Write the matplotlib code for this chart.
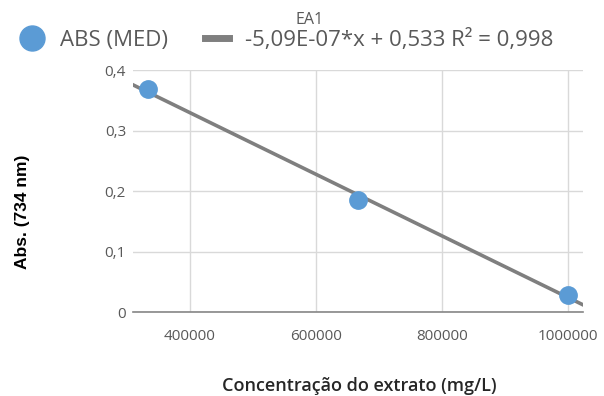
import matplotlib.pyplot as plt
from matplotlib.lines import Line2D
import numpy as np

plt.rcParams['font.family'] = ['Open Sans', 'DejaVu Sans']

# data
conc = [333333, 666667, 1000000]
absorb = [0.368, 0.185, 0.028]
slope = -5.09e-07
intercept = 0.533
xticks = [400000, 600000, 800000, 1000000]
yticks = [0, 0.1, 0.2, 0.3, 0.4]
ytick_labels = ["0", "0,1", "0,2", "0,3", "0,4"]

blue = "#5b9bd5"
trend_col = "#7f7f7f"
txt = "#595959"

fig = plt.figure(figsize=(6.04, 3.96), dpi=100)
ax = fig.add_axes([0.2202, 0.2121, 0.745, 0.6111])

xmin, xmax = 309500, 1023800
xs = np.array([xmin, xmax])
ax.plot(xs, slope * xs + intercept, color=trend_col, lw=2.6, zorder=2)
ax.plot(conc, absorb, "o", color=blue, ms=12.5, zorder=3)

ax.set_xlim(xmin, xmax)
ax.set_ylim(0, 0.4)
ax.set_xticks(xticks)
ax.set_xticklabels([str(v) for v in xticks])
ax.set_yticks(yticks)
ax.set_yticklabels(ytick_labels)
ax.grid(True, color="#d9d9d9", lw=1)
ax.set_axisbelow(True)
for s in ["top", "right", "left"]:
    ax.spines[s].set_visible(False)
ax.spines["bottom"].set_color("#868686")
ax.spines["bottom"].set_linewidth(1.2)
ax.tick_params(length=0, labelsize=11, colors=txt)
ax.tick_params(axis="x", pad=12)
ax.tick_params(axis="y", pad=5)

ax.set_xlabel("Concentração do extrato (mg/L)", fontsize=13, fontweight="semibold",
              color="#262626")
ax.xaxis.set_label_coords(0.504, -0.268)
ax.set_ylabel("Abs. (734 nm)", fontsize=12.5, fontweight="bold", color="black",
              family=["Liberation Sans", "DejaVu Sans"])
ax.yaxis.set_label_coords(-0.228, 0.413)

fig.text(0.512, 0.95, "EA1", ha="center", va="center", fontsize=11.5, color=txt)

handles = [Line2D([], [], marker="o", ls="", color=blue, ms=18),
           Line2D([], [], color=trend_col, lw=5)]
labels = ["ABS (MED)", "-5,09E-07*x + 0,533 R² = 0,998"]
fig.legend(handles, labels, ncol=2, frameon=False, loc="center",
           bbox_to_anchor=(0.475, 0.899), fontsize=16, labelcolor=txt,
           handlelength=1.1, columnspacing=1.65, handletextpad=0.72,
           borderpad=0, borderaxespad=0)

fig.savefig("out.png", dpi=100)
